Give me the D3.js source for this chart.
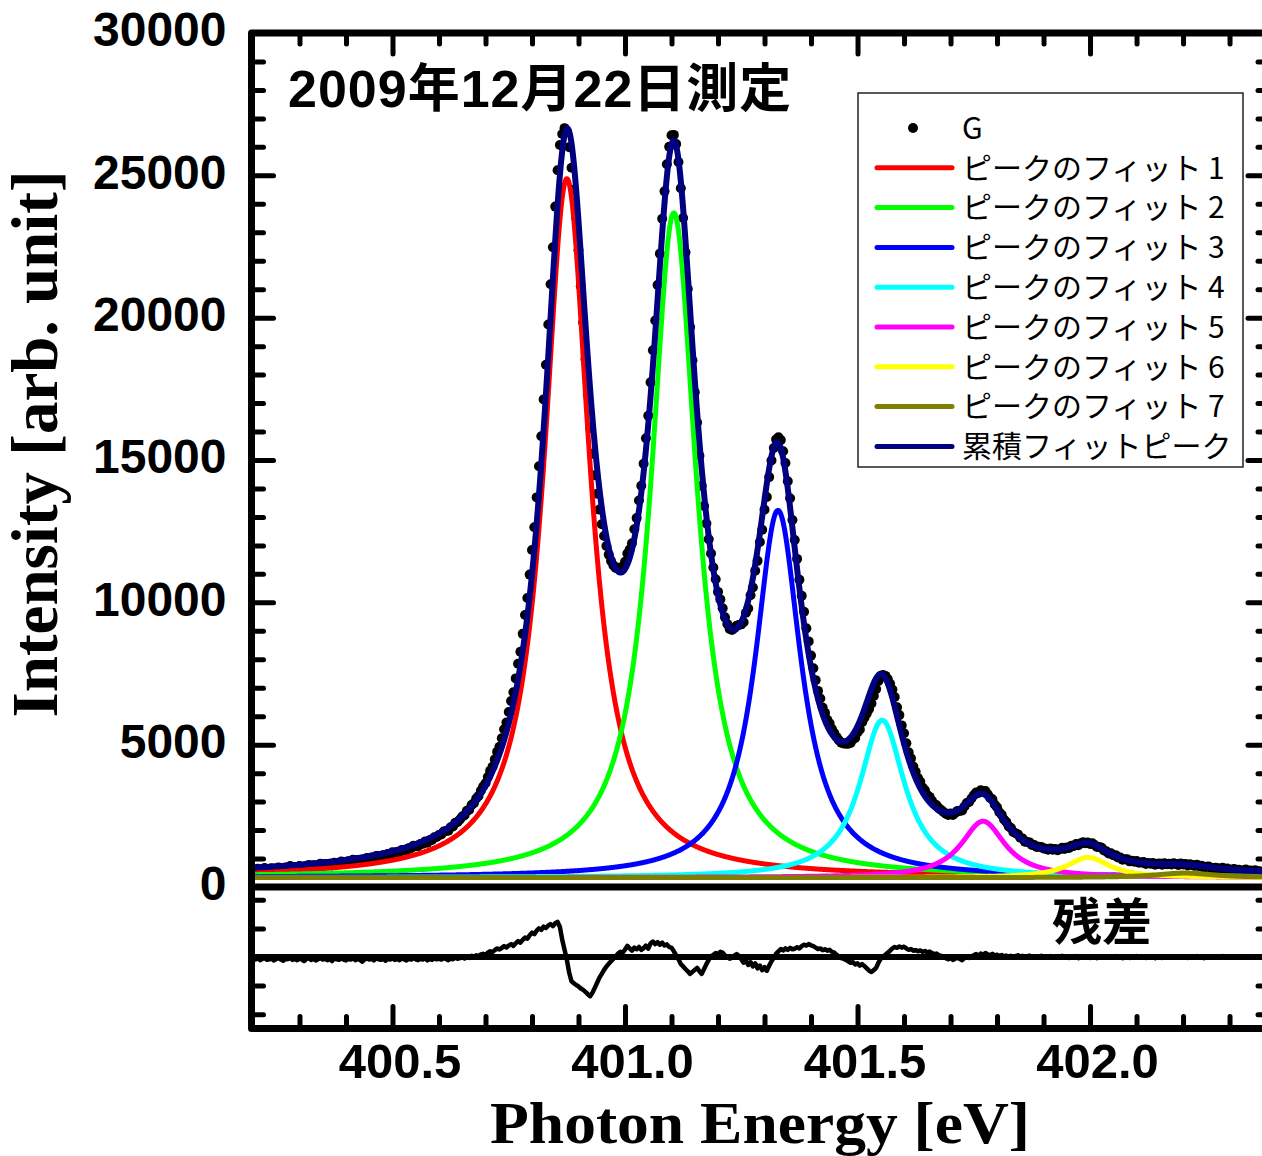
<!DOCTYPE html>
<html>
<head>
<meta charset="utf-8">
<script src="https://cdn.jsdelivr.net/npm/d3@7"></script>
<style>
  html, body { margin: 0; padding: 0; background: #fff; }
  svg { display: block; }
</style>
</head>
<body>
<svg id="chart" width="1262" height="1156"></svg>
<script>
// ---- Fit results: Lorentzian peaks on a constant baseline ----
const peakNames   = ["ピークのフィット 1", "ピークのフィット 2", "ピークのフィット 3", "ピークのフィット 4",
                     "ピークのフィット 5", "ピークのフィット 6", "ピークのフィット 7"];
const peakCenters = [400.875, 401.105, 401.329, 401.553, 401.770, 401.996, 402.204]; // eV
const peakHeights = [24550, 23350, 12900, 5530, 1980, 710, 160];                     // counts
const peakWidths  = [0.120, 0.120, 0.120, 0.118, 0.115, 0.110, 0.150];               // FWHM, eV
const baseline    = 330;

// ---- Residual (measured G minus cumulative fit), every 5 meV from 400.200 eV ----
const residualStart = 400.2;
const residualStep  = 0.005;
const residual = [
  // 400.200 - 400.690
  -60,-90,-40,-110,-70,-30,-100,-80,-50,-120,
  -70,-40,-90,-130,-60,-80,-20,-100,-70,-110,
  -50,-90,-140,-70,-40,-100,-60,-120,-80,-30,
  -90,-60,-110,-70,-140,-50,-80,-100,-40,-90,
  -120,-60,-90,-30,-110,-70,-100,-160,-80,-50,
  -90,-60,-120,-40,-80,-100,-70,-130,-60,-90,
  -40,-100,-70,-110,-50,-80,-120,-60,-90,-30,
  -80,-110,-60,-90,-40,-120,-70,-100,-50,-80,
  -60,-90,-30,-70,-110,-50,-80,-20,-60,-40,
  -10,-50,20,-30,40,0,60,30,90,
  // 400.695 - 400.865
  110,80,150,200,170,240,300,260,320,380,
  330,400,450,390,480,560,500,600,680,640,
  760,850,800,920,1000,950,1060,1010,1100,1150,
  1080,1180,1230,1050,600,
  // 400.870 - 400.980
  250,-100,-550,-850,-920,-980,-1030,-1100,-1150,-1220,
  -1300,-1370,-1250,-1080,-900,-720,-590,-450,-330,-240,
  -150,-60,20,
  // 400.985 - 401.100
  120,180,150,260,390,300,220,330,270,350,
  250,310,400,290,480,540,450,520,430,500,
  400,440,350,320,
  // 401.105 - 401.180
  200,60,-80,-250,-330,-420,-500,-590,-520,-450,
  -380,-500,-590,-420,-250,-100,
  // 401.185 - 401.245
  20,80,140,100,180,150,60,0,-60,-30,
  50,100,40,
  // 401.250 - 401.320
  -80,-200,-120,-280,-180,-330,-220,-400,-300,-460,
  -350,-480,-300,-150,-20,
  // 401.325 - 401.460
  120,200,280,230,300,250,320,270,290,340,
  300,380,430,400,450,410,380,330,280,300,
  240,270,220,250,180,150,80,20,
  // 401.465 - 401.570
  -40,-60,-100,-150,-200,-180,-260,-220,-300,-250,
  -320,-400,-480,-520,-460,-380,-200,-60,0,80,
  150,220,
  // 401.575 - 401.680
  300,350,320,370,330,360,300,250,280,220,
  240,200,230,180,210,160,190,140,100,120,
  60,40,
  // 401.685 - 401.900
  0,-40,-80,-30,-100,-60,-20,-70,-110,-40,
  10,-30,20,60,100,40,120,80,140,90,
  60,110,50,80,30,70,20,50,0,40,
  -10,30,60,10,40,-20,20,50,0,30,
  -10,20,40,0,
  // 401.905 - 402.380
  10,-20,30,-10,20,-30,0,40,-20,10,
  -30,20,-10,30,-40,0,20,-20,10,-30,
  20,-10,-40,10,30,-20,0,-30,20,-10,
  30,-20,10,-40,0,20,-30,10,-10,30,
  -20,0,30,-30,10,-10,20,-40,0,10,
  -30,20,-10,10,-20,30,0,-30,20,-10,
  10,-30,20,0,-20,30,-10,10,-40,0,
  20,-10,-30,10,0,-20,30,-10,20,-30,
  0,20,-20,10,-30,0,30,-10,10,-20,
  20,-10,0,-30,10,-10
];

// ---- Axis tick values ----
const xTicksMajor = [400.5, 401.0, 401.5, 402.0];
const xTicksMinor = [400.3, 400.4, 400.6, 400.7, 400.8, 400.9, 401.1, 401.2, 401.3, 401.4,
                     401.6, 401.7, 401.8, 401.9, 402.1, 402.2, 402.3];
const yTicksMajor = [0, 5000, 10000, 15000, 20000, 25000, 30000];
const yTicksMinor = [1000, 2000, 3000, 4000, 6000, 7000, 8000, 9000, 11000, 12000, 13000, 14000,
                     16000, 17000, 18000, 19000, 21000, 22000, 23000, 24000, 26000, 27000, 28000, 29000];
const residualTicks = [-2000, -1000, 1000, 2000];

(function draw() {
  // ---- Styling ----
  const peakColors = ["#ff0000", "#00ff00", "#0000ff", "#00ffff", "#ff00ff", "#ffff00", "#808000"];
  const cumColor = "#000080";
  const sansBold = "'Liberation Sans', Arial, 'Noto Sans CJK JP', sans-serif";
  const cjk = "'Noto Sans CJK JP', 'Noto Sans CJK SC', sans-serif";
  const serif = "'Liberation Serif', 'Times New Roman', serif";

  const svg = d3.select("#chart");
  svg.append("rect").attr("width", 1262).attr("height", 1156).attr("fill", "#fff");

  // ---- Layout ----
  const pL = 251.5, pR = 1270, pT = 33, pSep = 887, pB = 1028.5;

  const x  = d3.scaleLinear().domain([400.1968, 402.387]).range([pL, pR]);
  const y  = d3.scaleLinear().domain([0, 30000]).range([pSep, pT]);
  const yr = d3.scaleLinear().domain([-2500, 2500]).range([pB, pSep - 1.5]);

  // ---- Model functions ----
  function lorentz(e, i) {
    const h = peakWidths[i] / 2;
    const d = (e - peakCenters[i]) / h;
    return peakHeights[i] / (1 + d * d);
  }
  function cumulative(e) {
    let s = baseline;
    for (let i = 0; i < peakCenters.length; i++) s += lorentz(e, i);
    return s;
  }

  const curveGrid = d3.range(x.domain()[0], x.domain()[1] + 0.0005, 0.001);
  const energies = residual.map((_, i) => +(residualStart + i * residualStep).toFixed(3));
  const measured = energies.map((e, i) => ({ e, v: cumulative(e) + residual[i], r: residual[i] }));

  // ---- Clip regions ----
  const defs = svg.append("defs");
  defs.append("clipPath").attr("id", "clipTop")
    .append("rect").attr("x", pL).attr("y", pT).attr("width", pR - pL).attr("height", pSep - pT);
  defs.append("clipPath").attr("id", "clipRes")
    .append("rect").attr("x", pL).attr("y", pSep).attr("width", pR - pL).attr("height", pB - pSep);

  // ---- Upper panel: data and fit curves ----
  const gTop = svg.append("g").attr("clip-path", "url(#clipTop)");

  gTop.append("g").selectAll("circle")
    .data(measured).join("circle")
    .attr("cx", d => x(d.e)).attr("cy", d => y(d.v)).attr("r", 5)
    .attr("fill", "#000");

  const line = d3.line().x(d => x(d[0])).y(d => y(d[1]));

  peakCenters.forEach((c, i) => {
    gTop.append("path")
      .datum(curveGrid.map(e => [e, baseline + lorentz(e, i)]))
      .attr("d", line)
      .attr("fill", "none").attr("stroke", peakColors[i]).attr("stroke-width", 5)
      .attr("stroke-linejoin", "round");
  });

  gTop.append("path")
    .datum(curveGrid.map(e => [e, cumulative(e)]))
    .attr("d", line)
    .attr("fill", "none").attr("stroke", cumColor).attr("stroke-width", 6)
    .attr("stroke-linejoin", "round");

  // ---- Lower panel: residual ----
  const gRes = svg.append("g").attr("clip-path", "url(#clipRes)");
  gRes.append("line")
    .attr("x1", pL).attr("x2", pR).attr("y1", yr(0)).attr("y2", yr(0))
    .attr("stroke", "#000").attr("stroke-width", 6);
  gRes.append("path")
    .datum(measured)
    .attr("d", d3.line().x(d => x(d.e)).y(d => yr(d.r)))
    .attr("fill", "none").attr("stroke", "#000").attr("stroke-width", 4.5)
    .attr("stroke-linejoin", "round");

  // ---- Axes (ticks pointing inward) ----
  function styleAxis(g, fontSize) {
    g.select(".domain").remove();
    g.selectAll(".tick line").attr("stroke", "#000").attr("stroke-width", 5).attr("stroke-linecap", "round");
    if (fontSize) {
      g.selectAll(".tick text").attr("fill", "#000")
        .style("font-family", sansBold).style("font-weight", "bold").style("font-size", fontSize + "px");
    } else {
      g.selectAll(".tick text").remove();
    }
  }

  // bottom
  svg.append("g").attr("transform", `translate(0,${pB})`)
    .call(d3.axisBottom(x).tickValues(xTicksMajor).tickSize(-22).tickPadding(15).tickFormat(d3.format(".1f")))
    .call(g => styleAxis(g, 49))
    .call(g => g.selectAll(".tick text").attr("dx", 7));
  svg.append("g").attr("transform", `translate(0,${pB})`)
    .call(d3.axisBottom(x).tickValues(xTicksMinor).tickSize(-12).tickFormat(""))
    .call(g => styleAxis(g, 0));
  // top
  svg.append("g").attr("transform", `translate(0,${pT})`)
    .call(d3.axisTop(x).tickValues(xTicksMajor).tickSize(-21).tickFormat(""))
    .call(g => styleAxis(g, 0));
  svg.append("g").attr("transform", `translate(0,${pT})`)
    .call(d3.axisTop(x).tickValues(xTicksMinor).tickSize(-11).tickFormat(""))
    .call(g => styleAxis(g, 0));
  // left (upper panel)
  svg.append("g").attr("transform", `translate(${pL},0)`)
    .call(d3.axisLeft(y).tickValues(yTicksMajor).tickSize(-22).tickPadding(25).tickFormat(d3.format("d")))
    .call(g => styleAxis(g, 48))
    .call(g => g.selectAll(".tick text").attr("dy", "0.27em"));
  svg.append("g").attr("transform", `translate(${pL},0)`)
    .call(d3.axisLeft(y).tickValues(yTicksMinor).tickSize(-12).tickFormat(""))
    .call(g => styleAxis(g, 0));
  // right (upper panel)
  svg.append("g").attr("transform", `translate(${pR},0)`)
    .call(d3.axisRight(y).tickValues(yTicksMajor.slice(1, -1)).tickSize(-22).tickFormat(""))
    .call(g => styleAxis(g, 0));
  svg.append("g").attr("transform", `translate(${pR},0)`)
    .call(d3.axisRight(y).tickValues(yTicksMinor).tickSize(-12).tickFormat(""))
    .call(g => styleAxis(g, 0));
  // residual panel
  svg.append("g").attr("transform", `translate(${pL},0)`)
    .call(d3.axisLeft(yr).tickValues(residualTicks).tickSize(-12).tickFormat(""))
    .call(g => styleAxis(g, 0));
  svg.append("g").attr("transform", `translate(${pR},0)`)
    .call(d3.axisRight(yr).tickValues(residualTicks).tickSize(-12).tickFormat(""))
    .call(g => styleAxis(g, 0));

  // ---- Frame ----
  svg.append("rect")
    .attr("x", pL).attr("y", pT).attr("width", pR - pL).attr("height", pB - pT)
    .attr("fill", "none").attr("stroke", "#000").attr("stroke-width", 7).attr("stroke-linejoin", "round");
  svg.append("line")
    .attr("x1", pL).attr("x2", pR).attr("y1", pSep).attr("y2", pSep)
    .attr("stroke", "#000").attr("stroke-width", 7);

  // ---- Axis titles ----
  svg.append("text")
    .attr("transform", "translate(57,444) rotate(-90)")
    .attr("text-anchor", "middle")
    .style("font-family", serif).style("font-weight", "bold").style("font-size", "65px")
    .text("Intensity [arb. unit]");
  svg.append("text")
    .attr("x", 760).attr("y", 1142.8).attr("text-anchor", "middle")
    .attr("textLength", 540).attr("lengthAdjust", "spacingAndGlyphs")
    .style("font-family", serif).style("font-weight", "bold").style("font-size", "60px")
    .text("Photon Energy [eV]");

  // ---- Annotations ----
  svg.append("text")
    .attr("x", 288).attr("y", 107)
    .style("font-family", sansBold).style("font-weight", "bold").style("font-size", "52px")
    .style("letter-spacing", "1px")
    .text("2009年12月22日測定");
  svg.append("text")
    .attr("x", 1052).attr("y", 940)
    .style("font-family", cjk).style("font-weight", "bold").style("font-size", "50px")
    .text("残差");

  // ---- Legend ----
  const lg = svg.append("g");
  lg.append("rect").attr("x", 858).attr("y", 93).attr("width", 385).attr("height", 374)
    .attr("fill", "#fff").attr("stroke", "#222").attr("stroke-width", 1.5);
  const legendItems = [{ name: "G", type: "dot" }]
    .concat(peakNames.map((n, i) => ({ name: n, type: "line", color: peakColors[i] })))
    .concat([{ name: "累積フィットピーク", type: "line", color: cumColor }]);
  legendItems.forEach((it, k) => {
    const cy = 128 + 39.8 * k;
    if (it.type === "dot") {
      lg.append("circle").attr("cx", 913).attr("cy", cy).attr("r", 5).attr("fill", "#000");
    } else {
      lg.append("line").attr("x1", 877).attr("x2", 952).attr("y1", cy).attr("y2", cy)
        .attr("stroke", it.color).attr("stroke-width", 5).attr("stroke-linecap", "round");
    }
    lg.append("text").attr("x", 962).attr("y", cy).attr("dy", "0.36em")
      .style("font-family", cjk).style("font-size", "30px").attr("fill", "#000")
      .text(it.name);
  });
})();
</script>
</body>
</html>
